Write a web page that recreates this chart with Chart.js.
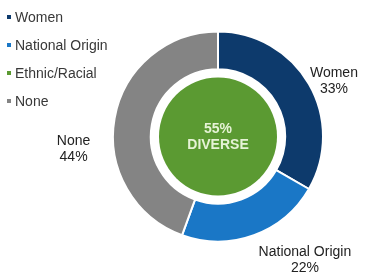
<!DOCTYPE html>
<html>
<head>
<meta charset="utf-8">
<script src="https://cdn.jsdelivr.net/npm/chart.js@4.4.0/dist/chart.umd.min.js"></script>
<style>
body { margin: 0; background: #fff; font-family: "Liberation Sans", Arial, sans-serif; }
#wrap { position: relative; width: 368px; height: 274px; }
#legend { position: absolute; left: 7px; top: 9px; font-size: 14px; color: #383838; }
#legend div { height: 28px; line-height: 17px; white-space: nowrap; }
#legend span { display: inline-block; width: 4px; height: 4px; margin-right: 4px; vertical-align: middle; position: relative; top: -1px; }
</style>
</head>
<body>
<div id="wrap">
  <canvas id="pieChart" width="368" height="274"></canvas>
  <div id="legend"></div>
</div>
<script>
var labels = ['Women', 'National Origin', 'Ethnic/Racial', 'None'];
var values = [33, 22, 0, 44]; // percent
var colors = ['#0d3a6c', '#1a77c6', '#5b9a32', '#848484'];
var diverseGroups = ['Women', 'National Origin', 'Ethnic/Racial'];

// where each outside label sits, relative to the middle of its arc edge
var labelOffsets = [[25, -3], [51, 25], [0, 0], [-41, 31]];

var diverse = 0;
labels.forEach(function (l, i) {
    if (diverseGroups.indexOf(l) >= 0) diverse += values[i];
});

// html legend
var legend = document.getElementById('legend');
labels.forEach(function (l, i) {
    var row = document.createElement('div');
    row.innerHTML = '<span style="background:' + colors[i] + '"></span>' + l;
    legend.appendChild(row);
});

var centerPlugin = {
    id: 'center',
    beforeDatasetsDraw: function (chart) {
        var arc = chart.getDatasetMeta(0).data[0];
        var c = chart.ctx;
        c.save();
        c.beginPath();
        c.arc(arc.x, arc.y, 59, 0, Math.PI * 2);
        c.fillStyle = colors[2];
        c.fill();
        c.fillStyle = '#e6f3d6';
        c.font = 'bold 14px "Liberation Sans", Arial, sans-serif';
        c.textAlign = 'center';
        c.textBaseline = 'middle';
        c.fillText(diverse + '%', arc.x, arc.y - 7);
        c.fillText('DIVERSE', arc.x, arc.y + 9);
        c.restore();
    }
};

var outsideLabels = {
    id: 'outsideLabels',
    afterDatasetsDraw: function (chart) {
        var c = chart.ctx;
        c.save();
        c.fillStyle = '#222';
        c.font = '14px "Liberation Sans", Arial, sans-serif';
        c.textAlign = 'center';
        c.textBaseline = 'middle';
        chart.getDatasetMeta(0).data.forEach(function (arc, i) {
            if (!values[i]) return;
            var mid = (arc.startAngle + arc.endAngle) / 2;
            var x = arc.x + Math.cos(mid) * arc.outerRadius + labelOffsets[i][0];
            var y = arc.y + Math.sin(mid) * arc.outerRadius + labelOffsets[i][1];
            c.fillText(labels[i], x, y - 8);
            c.fillText(values[i] + '%', x, y + 8);
        });
        c.restore();
    }
};

var ctx = document.getElementById('pieChart').getContext('2d');
var myChart = new Chart(ctx, {
    type: 'doughnut',
    data: {
        labels: labels,
        datasets: [{
            data: values,
            backgroundColor: colors,
            borderColor: '#ffffff',
            borderWidth: 2
        }]
    },
    options: {
        responsive: false,
        animation: false,
        cutout: '64%',
        layout: { padding: { left: 112, right: 44, top: 29, bottom: 30 } },
        plugins: {
            legend: { display: false },
            tooltip: { enabled: false }
        },
        events: []
    },
    plugins: [centerPlugin, outsideLabels]
});
</script>
</body>
</html>
